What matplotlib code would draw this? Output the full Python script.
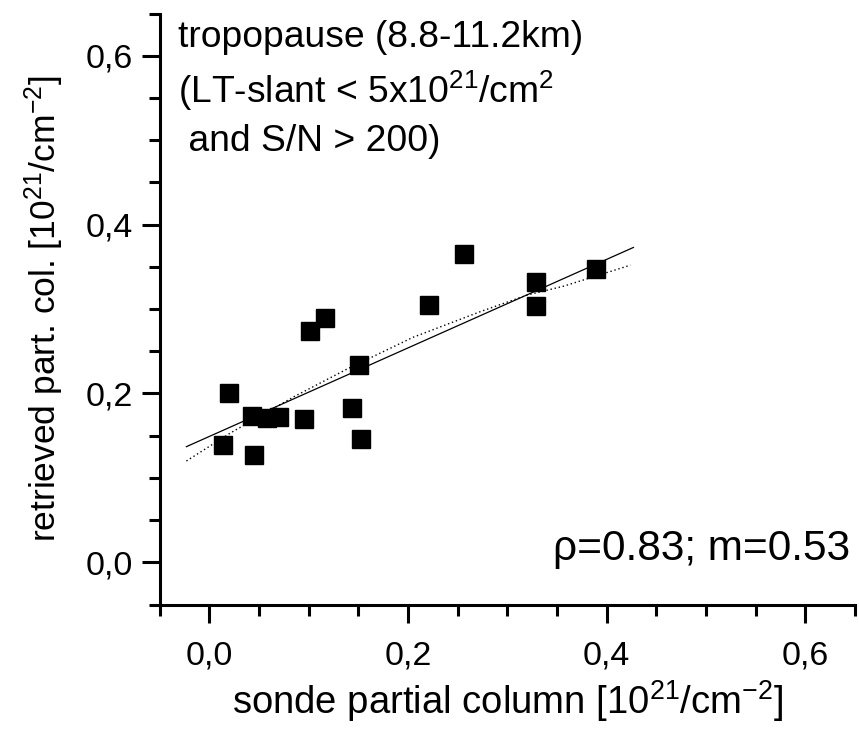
import matplotlib
matplotlib.use("Agg")
import matplotlib.pyplot as plt
from matplotlib.ticker import FixedLocator

FONT = 'Liberation Sans'
plt.rcParams['font.family'] = [FONT, 'DejaVu Sans']
plt.rcParams['mathtext.fontset'] = 'custom'
plt.rcParams['mathtext.rm'] = FONT
plt.rcParams['mathtext.it'] = FONT + ':italic'
plt.rcParams['mathtext.bf'] = FONT + ':bold'

# data
sonde = [0.020, 0.014, 0.043, 0.045, 0.058, 0.070, 0.095, 0.101, 0.117,
         0.144, 0.151, 0.153, 0.221, 0.256, 0.329, 0.329, 0.389]
retrieved = [0.201, 0.139, 0.173, 0.127, 0.171, 0.172, 0.170, 0.274, 0.290,
             0.183, 0.234, 0.146, 0.305, 0.365, 0.332, 0.304, 0.347]

# linear regression line (end points)
fit_x = [-0.023, 0.427]
fit_y = [0.137, 0.373]

# dotted curve (points read along it)
curve_x = [-0.023, 0.021, 0.085, 0.138, 0.205, 0.273, 0.320, 0.357, 0.424]
curve_y = [0.120, 0.153, 0.196, 0.2285, 0.2665, 0.297, 0.3166, 0.3272, 0.352]

major_ticks = [0.0, 0.2, 0.4, 0.6]
tick_labels = ['0,0', '0,2', '0,4', '0,6']
minor_ticks = [-0.05, 0.05, 0.10, 0.15, 0.25, 0.30, 0.35, 0.45, 0.50, 0.55, 0.65]

fig = plt.figure(figsize=(8.59, 7.40), dpi=100)
ax = fig.add_axes([0.1858, 0.1831, 0.8095, 0.7985])

ax.plot(fit_x, fit_y, color='black', lw=0.9, zorder=2)
ax.plot(curve_x, curve_y, color='black', lw=1.0, ls=(0, (1, 2)), zorder=2)
ax.plot(sonde, retrieved, ls='none', marker='s', ms=12.3, color='black',
        mec='black', zorder=3)

ax.set_xlim(-0.05, 0.65)
ax.set_ylim(-0.05, 0.65)

for axis in (ax.xaxis, ax.yaxis):
    axis.set_major_locator(FixedLocator(major_ticks))
    axis.set_minor_locator(FixedLocator(minor_ticks))
ax.set_xticklabels(tick_labels)
ax.set_yticklabels(tick_labels)

ax.spines['top'].set_visible(False)
ax.spines['right'].set_visible(False)
for s in ('left', 'bottom'):
    ax.spines[s].set_linewidth(2.2)
ax.tick_params(which='major', direction='out', length=13, width=2.2,
               labelsize=24.5)
ax.tick_params(axis='x', which='major', pad=13)
ax.tick_params(axis='y', which='major', pad=6)
ax.tick_params(which='minor', direction='out', length=8, width=2.2)

ax.set_xlabel(r'sonde partial column [10$^{21}$/cm$^{-2}$]', fontsize=27.5,
              labelpad=5)
ax.set_ylabel(r'retrieved part. col. [10$^{21}$/cm$^{-2}$]', fontsize=25.5,
              labelpad=14)

ax.text(0.026, 0.99,
        'tropopause (8.8-11.2km)\n(LT-slant < 5x10$^{21}$/cm$^{2}$\n and S/N > 200)',
        transform=ax.transAxes, ha='left', va='top', fontsize=26.8,
        linespacing=1.42)
ax.text(0.993, 0.075, 'ρ=0.83; m=0.53', transform=ax.transAxes,
        ha='right', va='baseline', fontsize=30.5)

fig.savefig('out.png', dpi=100)
